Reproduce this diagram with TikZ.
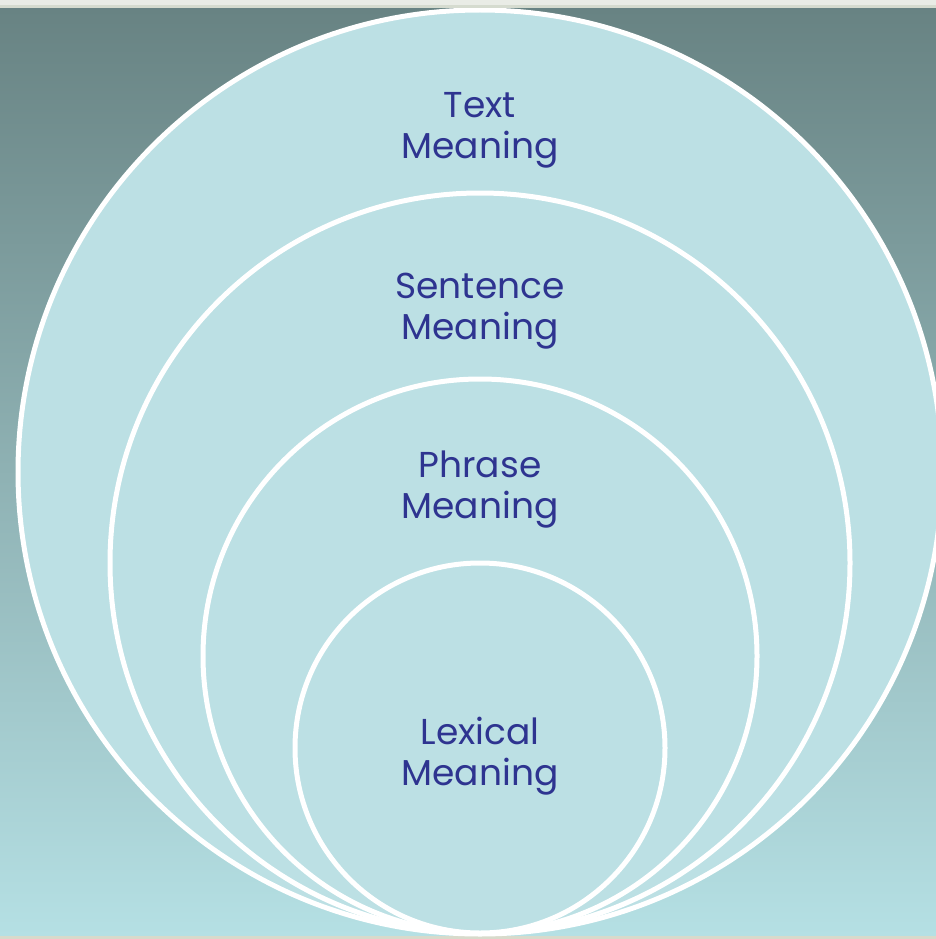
\documentclass[tikz,border=0pt]{standalone}
\usepackage{fontspec}
\setmainfont{Poppins}
\definecolor{bgtop}{HTML}{688383}
\definecolor{bgbot}{HTML}{B5E0E4}
\definecolor{ringfill}{HTML}{BCE0E4}
\definecolor{labelblue}{HTML}{2E3490}
\definecolor{stripA}{HTML}{E9ECE6}
\definecolor{stripB}{HTML}{D5DBCF}
\definecolor{stripC}{HTML}{D8DACB}
\tikzset{
  ring/.style={draw=white, line width=5pt, fill=ringfill},
  ringlabel/.style={text=labelblue, align=center, inner sep=0pt,
    font=\fontsize{36}{41}\selectfont},
}
\begin{document}
\begin{tikzpicture}[x=1pt,y=-1pt]
\useasboundingbox (0,0) rectangle (936,939);
% background
\fill[stripA] (0,0) rectangle (936,5);
\fill[stripB] (0,5) rectangle (936,9);
\shade[top color=bgtop, bottom color=bgbot] (0,9) rectangle (936,936);
\fill[stripC] (0,936) rectangle (936,939);
% rings
\begin{scope}
\clip (0,9) rectangle (936,936);
\path[ring] (480,472) circle[radius=462pt];
\path[ring] (480,563) circle[radius=370pt];
\path[ring] (480,656) circle[radius=277pt];
\path[ring] (480,748) circle[radius=185pt];
\end{scope}
% labels
\node[ringlabel] (text) at (480,130) {Text\\Meaning};
\node[ringlabel] (sentence) at (480,311) {Sentence\\Meaning};
\node[ringlabel] (phrase) at (480,490) {Phrase\\Meaning};
\node[ringlabel] (lexical) at (480,756) {Lexical\\Meaning};
\end{tikzpicture}
\end{document}
